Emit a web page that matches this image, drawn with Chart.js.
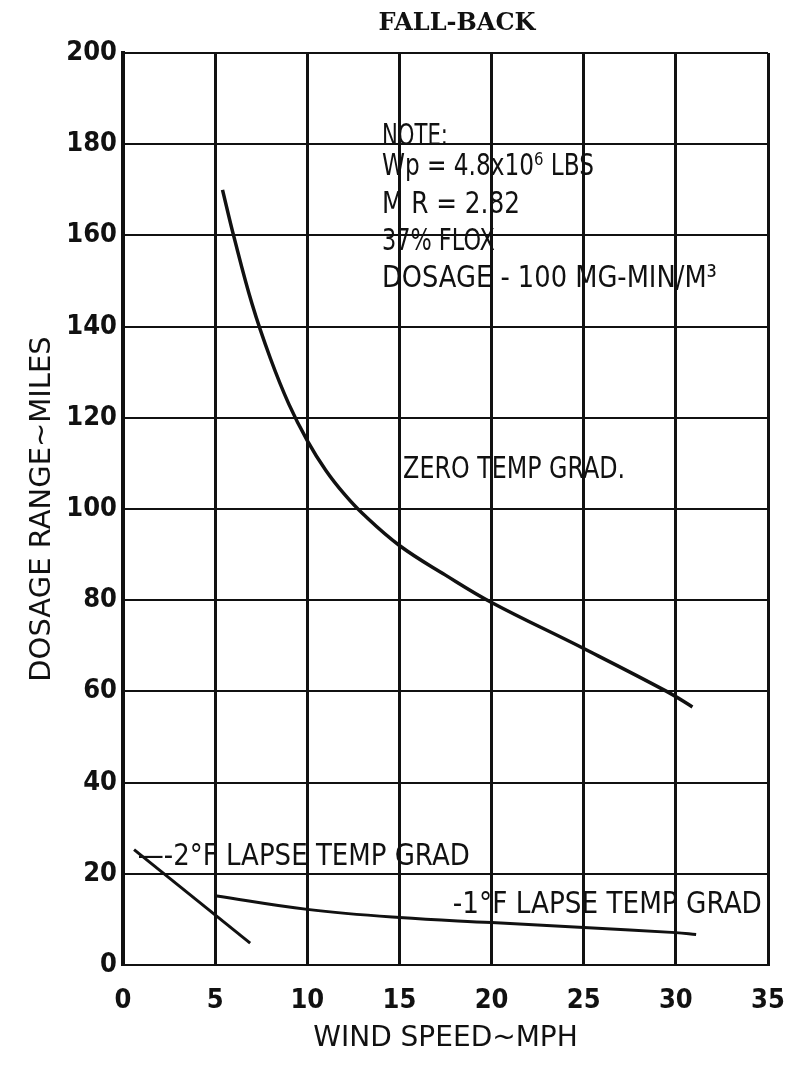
<!DOCTYPE html>
<html>
<head>
<meta charset="utf-8">
<script src="https://cdn.jsdelivr.net/npm/chart.js@4.4.1/dist/chart.umd.min.js"></script>
<style>
  html, body { margin: 0; padding: 0; background: #fff; overflow: hidden; }
  #wrap { width: 791px; height: 1070px; position: relative; }
  #chart { display: block; }
</style>
</head>
<body>
<div id="wrap"><canvas id="chart"></canvas></div>
<script>
// Fall-back dosage range vs wind speed

const xTicks = [0, 5, 10, 15, 20, 25, 30, 35];
const yTicks = [0, 20, 40, 60, 80, 100, 120, 140, 160, 180, 200];

// zero temperature gradient
const zeroWind = [5.4, 6, 7, 8, 9, 10, 11, 12, 13, 15, 17.5, 20, 25, 29.5, 30.9];
const zeroRange = [170, 160, 145, 133, 123, 115, 108.5, 103.3, 99, 92, 85.5, 79.5, 69.4, 60, 56.6];

// -1 deg F lapse temperature gradient
const lapse1Wind = [5, 10, 15, 20, 25, 30, 31.1];
const lapse1Range = [15.2, 12.2, 10.4, 9.3, 8.2, 7.1, 6.7];

// -2 deg F lapse temperature gradient
const lapse2Wind = [0.6, 6.9];
const lapse2Range = [25.3, 4.8];

const INK = "#111";
const LETTERING = '"DejaVu Sans", sans-serif';
const NARROW = '"Liberation Sans Narrow", "DejaVu Sans Condensed", "Liberation Sans", sans-serif';

const toPoints = (xs, ys) => xs.map((x, i) => ({ x, y: ys[i] }));

// hand lettering on the plot: anchored in data units, w = max width in px
const notes = [
  { text: "NOTE:", x: 14.05, y: 179.8, w: 66 },
  { text: "Wp = 4.8x10\u2076 LBS", x: 14.05, y: 173.2, w: 212 },
  { text: "M R = 2.82", x: 14.05, y: 164.9, w: 138 },
  { text: "37% FLOX", x: 14.05, y: 156.8, w: 113 },
  { text: "DOSAGE - 100 MG-MIN/M\u00b3", x: 14.05, y: 148.7, w: 335 },
  { text: "ZERO TEMP GRAD.", x: 15.2, y: 106.8, w: 222 },
  { text: "\u2014-2\u00b0F LAPSE TEMP GRAD", x: 0.8, y: 21.9, w: 332 },
  { text: "-1\u00b0F LAPSE TEMP GRAD", x: 17.9, y: 11.4, w: 309 }
];

const lettering = {
  id: "lettering",
  afterDatasetsDraw(chart) {
    const { ctx, scales: { x, y } } = chart;
    ctx.save();
    ctx.fillStyle = INK;
    ctx.textBaseline = "alphabetic";
    ctx.textAlign = "left";
    ctx.font = `31px ${LETTERING}`;
    notes.forEach(n => ctx.fillText(n.text, x.getPixelForValue(n.x), y.getPixelForValue(n.y), n.w));

    ctx.font = 'bold 24px "DejaVu Serif", serif';
    ctx.textAlign = "center";
    ctx.fillText("FALL-BACK", 457, 30, 185);
    ctx.restore();
  }
};

const lineStyle = { borderColor: INK, pointRadius: 0, fill: false };

new Chart(document.getElementById("chart"), {
  type: "line",
  data: {
    datasets: [
      { ...lineStyle, label: "Zero temp grad", data: toPoints(zeroWind, zeroRange), borderWidth: 3.5, tension: 0.4 },
      { ...lineStyle, label: "-1°F lapse temp grad", data: toPoints(lapse1Wind, lapse1Range), borderWidth: 3, tension: 0.4 },
      { ...lineStyle, label: "-2°F lapse temp grad", data: toPoints(lapse2Wind, lapse2Range), borderWidth: 3 }
    ]
  },
  options: {
    responsive: true,
    maintainAspectRatio: false,
    animation: false,
    layout: { padding: { top: 53, right: 23, bottom: 14, left: 25 } },
    plugins: { legend: { display: false }, tooltip: { enabled: false } },
    scales: {
      x: {
        type: "linear", min: 0, max: 35,
        afterBuildTicks: s => { s.ticks = xTicks.map(v => ({ value: v })); },
        afterFit: s => { s.height = 91; },
        // invisible tick marks push the labels down without widening the side padding
        grid: { color: INK, lineWidth: 3, drawTicks: true, tickLength: 18, tickColor: "rgba(0,0,0,0)" },
        border: { color: INK, width: 2 },
        ticks: { color: INK, padding: 2, maxRotation: 0, font: { family: NARROW, size: 27, weight: "bold" } },
        title: { display: true, text: "WIND SPEED~MPH", color: INK, padding: 0, font: { family: LETTERING, size: 28 } }
      },
      y: {
        type: "linear", min: 0, max: 200,
        afterBuildTicks: s => { s.ticks = yTicks.map(v => ({ value: v })); },
        afterFit: s => { s.width = 98; },
        grid: { color: INK, lineWidth: 2, drawTicks: false },
        border: { color: INK, width: 4 },
        ticks: { color: INK, padding: 6, font: { family: NARROW, size: 27, weight: "bold" } },
        title: { display: true, text: "DOSAGE RANGE~MILES", color: INK, padding: 0, font: { family: LETTERING, size: 29 } }
      }
    }
  },
  plugins: [lettering]
});
</script>
</body>
</html>
